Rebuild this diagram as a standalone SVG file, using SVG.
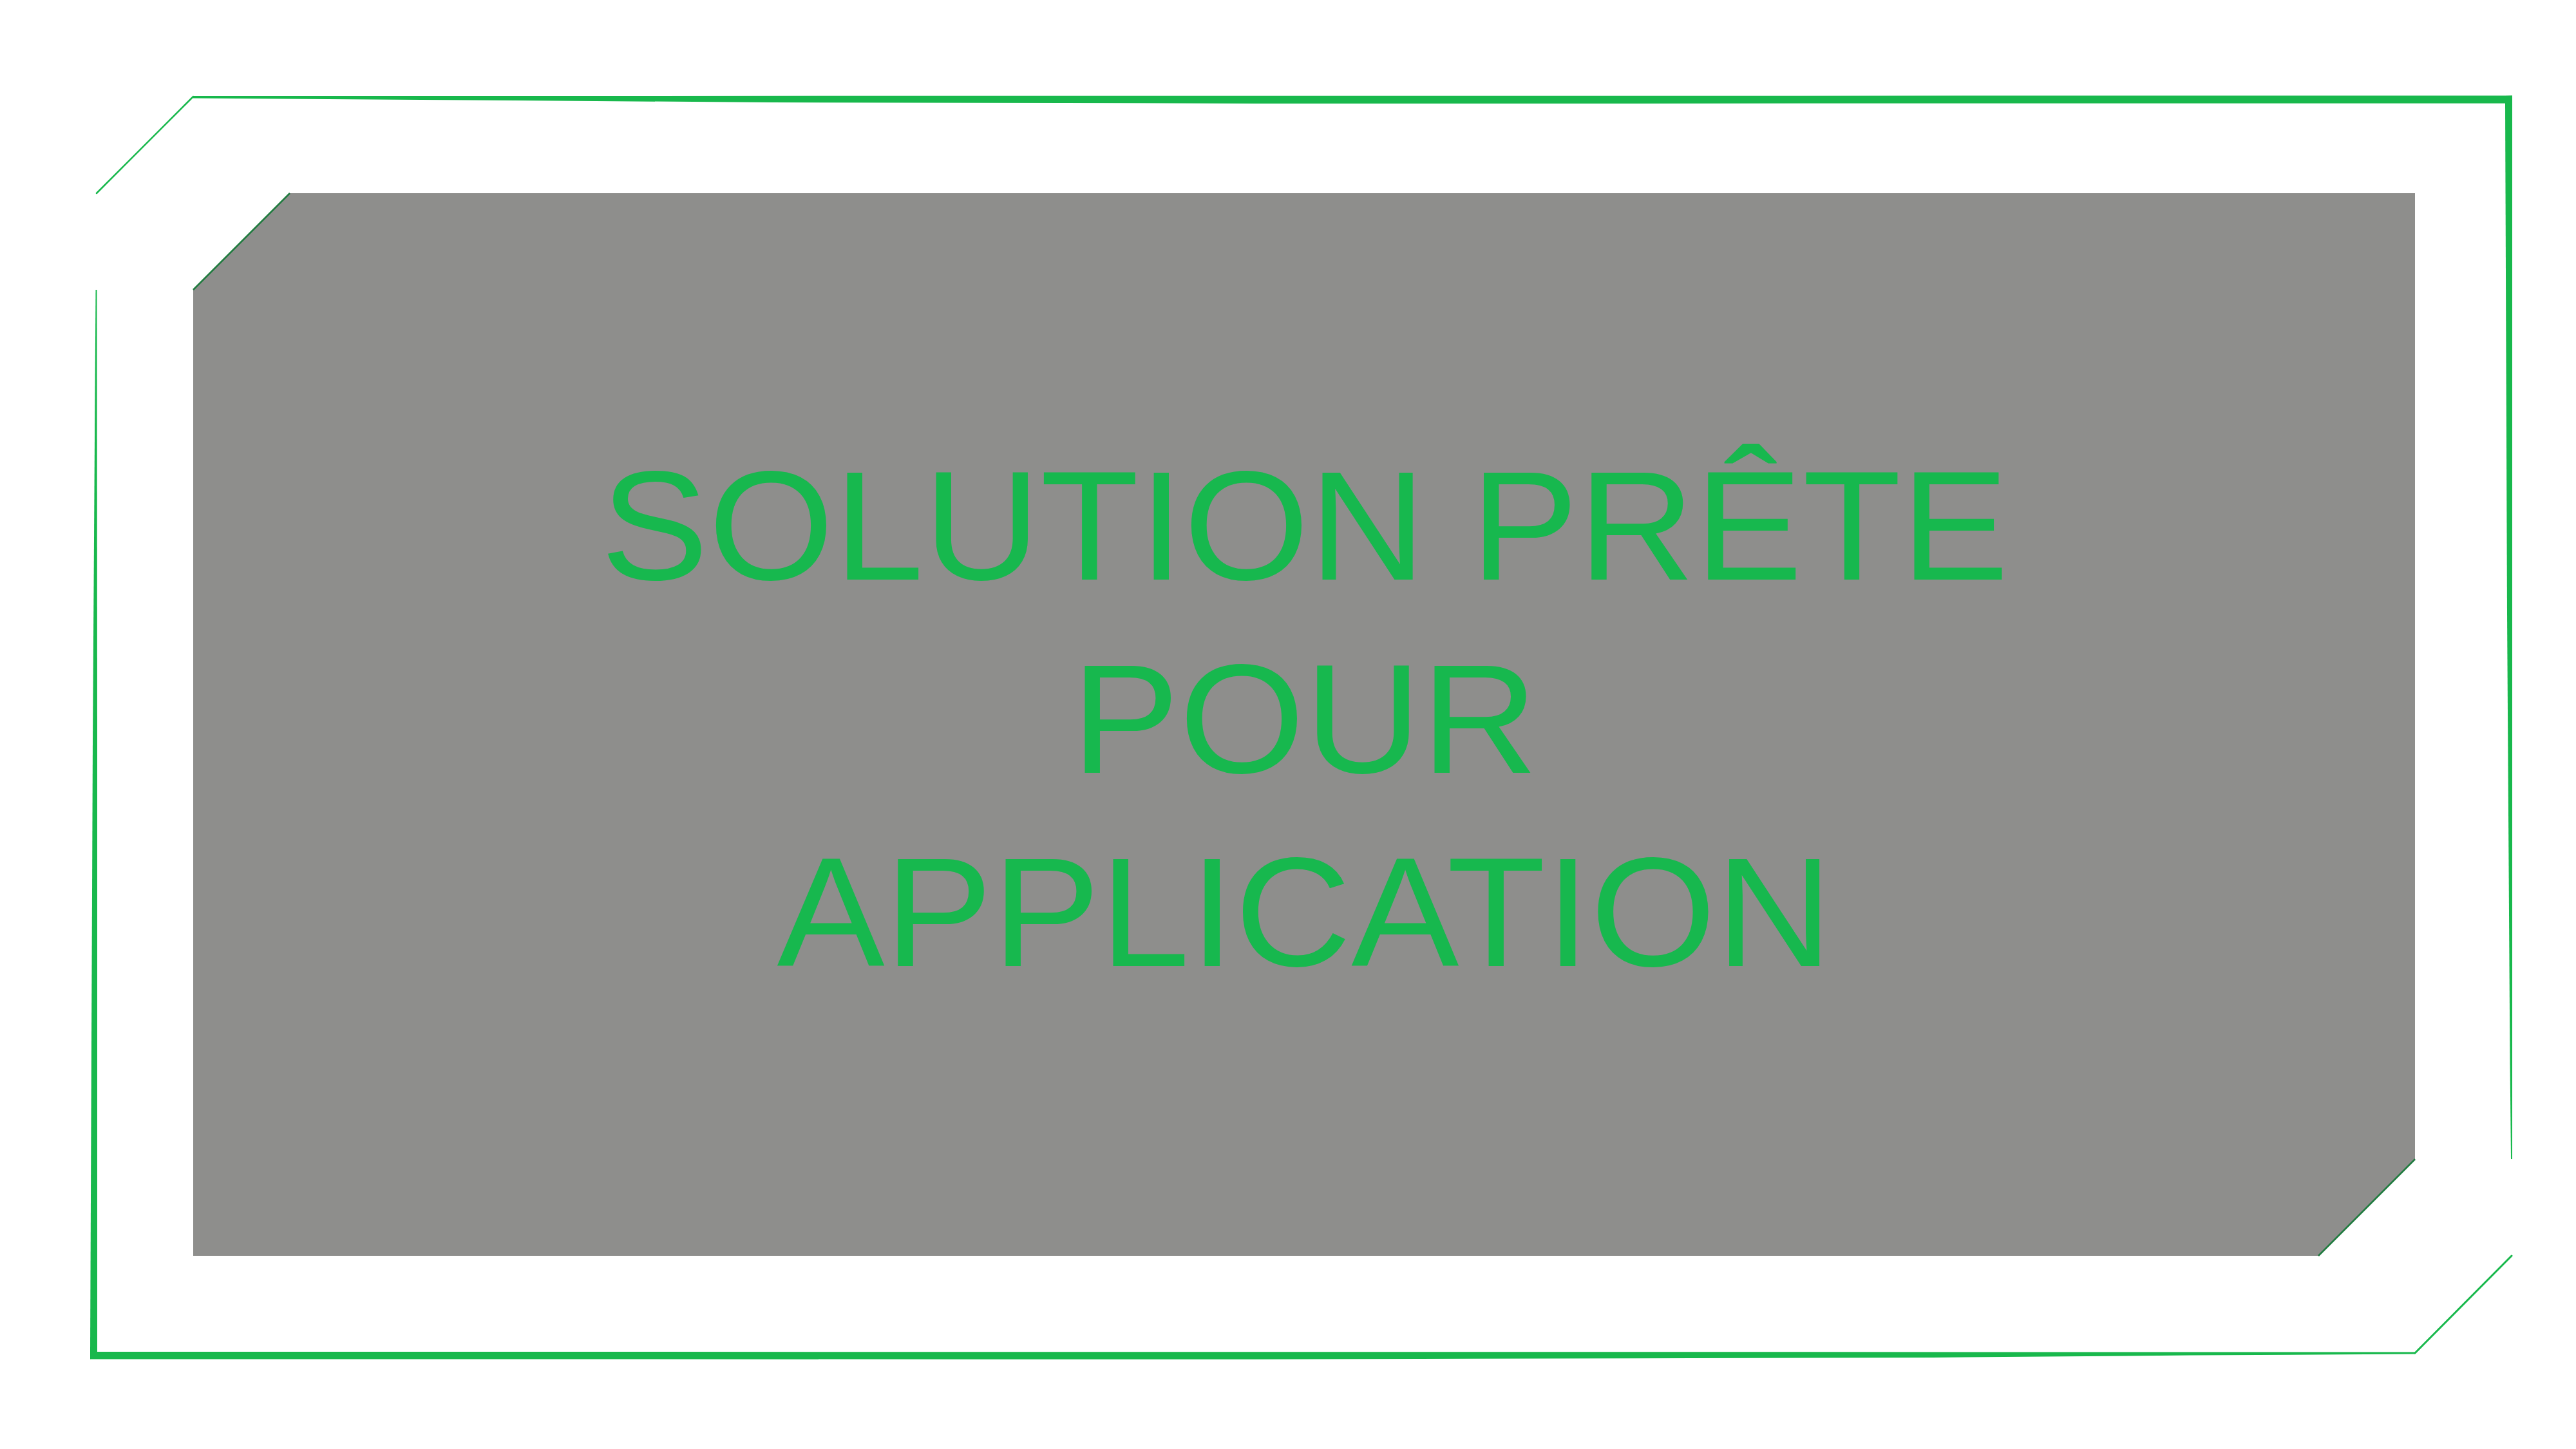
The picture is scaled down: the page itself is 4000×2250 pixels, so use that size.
<svg xmlns="http://www.w3.org/2000/svg" width="4000" height="2250" viewBox="0 0 4000 2250">
  <style>
    .frame { fill: #18b84c; }
    .frameline { stroke: #18b84c; stroke-width: 3; fill: none; stroke-linecap: round; }
    .cut { stroke: #1d7a3d; stroke-width: 2.5; fill: none; }
    .panel { fill: #8e8e8c; }
    .label { fill: #17b84e; font-family: "Liberation Sans", Arial, sans-serif; font-size: 241px; text-anchor: middle; }
  </style>
  <rect x="0" y="0" width="4000" height="2250" fill="#ffffff"/>
  <g id="frame">
    <polygon class="frame" points="300,149 3901,148.5 3901,160.5 1950,160.7 1200,159 800,156 300,152.5"/>
    <polygon class="frame" points="3890,149 3901,148.5 3901,1800 3899,1800 3897.5,1650 3893,950 3890,160"/>
    <line class="frameline" x1="3900" y1="1950" x2="3750" y2="2101"/>
    <polygon class="frame" points="3750,2099.5 140,2099 140,2110.5 1950,2110.7 3000,2108 3400,2104.6 3750,2102.5"/>
    <polygon class="frame" points="140,2110.5 151,2099 151,1150 150.5,450 148.5,450 144,1150 140,2099"/>
    <line class="frameline" x1="150" y1="300" x2="300" y2="150" style="stroke-width:2.5"/>
  </g>
  <g id="panel">
    <polygon class="panel" points="450,300 3750,300 3750,1800 3600,1950 300,1950 300,450"/>
    <line class="cut" x1="300" y1="450" x2="450" y2="300"/>
    <line class="cut" x1="3750" y1="1800" x2="3600" y2="1950"/>
  </g>
  <g id="title" transform="translate(2026 0) scale(1.04 1)">
    <text class="label" x="0" y="900">SOLUTION PRÊTE</text>
    <text class="label" x="0" y="1200">POUR</text>
    <text class="label" x="0" y="1500">APPLICATION</text>
  </g>
</svg>
